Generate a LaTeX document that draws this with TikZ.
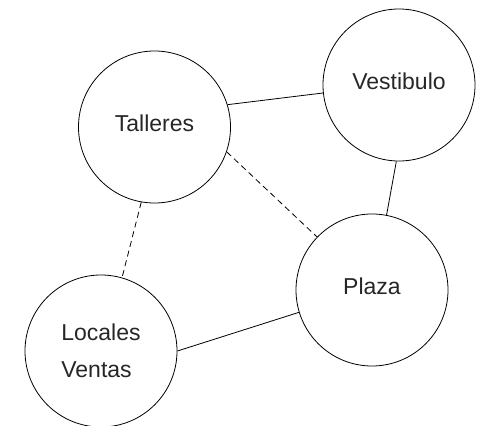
\documentclass[tikz,border=0pt]{standalone}
\usepackage{fontspec}
\setmainfont{Liberation Sans}
\begin{document}
\begin{tikzpicture}[x=1pt,y=-1pt,
    room/.style={draw,circle,line width=0.8pt,minimum size=152pt,inner sep=0pt,
      font=\fontsize{23}{37}\selectfont,align=left,text=black!85,text depth=7pt},
    link/.style={line width=0.8pt},
    weak/.style={line width=0.8pt,dash pattern=on 6pt off 4pt}]
    \useasboundingbox (0,0) rectangle (481,425);
    \node[room] (Tal) at (154.5,127) {Talleres};
    \node[room] (Ves) at (399,85) {Vestibulo};
    \node[room] (Pla) at (372,290) {Plaza};
    \node[room,text depth=0pt] (Loc) at (101,351) {Locales\\Ventas};

    \draw[link] (Tal.17.7) -- (Ves.186);
    \draw[link] (Ves.268) -- (Pla.79.4);
    \draw[link] (Loc.0.8) -- (Pla.197.5);
    \draw[weak] (Tal.341) -- (Pla.136.6);
    \draw[weak] (Tal.260) -- (Loc.74.3);
  \end{tikzpicture}
\end{document}
